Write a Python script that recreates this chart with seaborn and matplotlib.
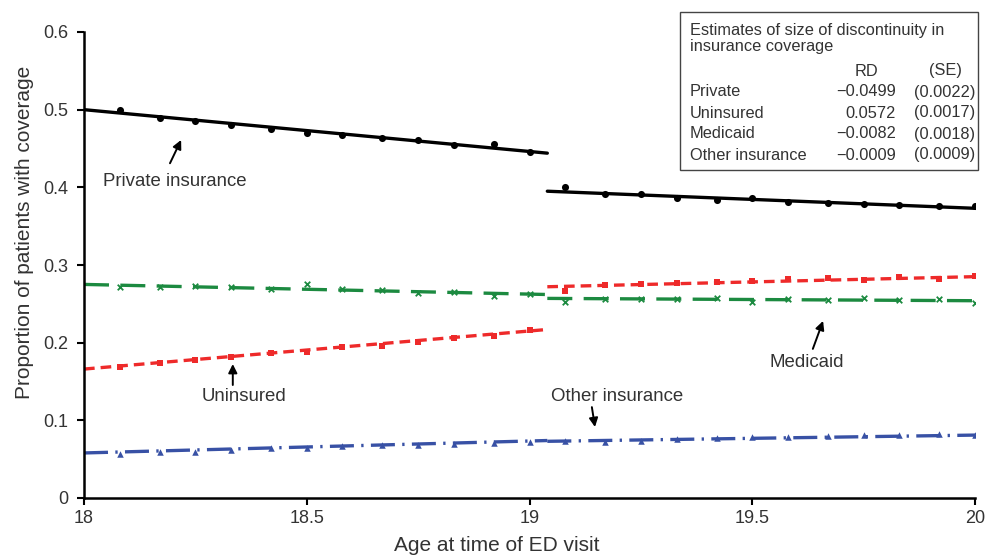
import numpy as np
import pandas as pd
import matplotlib
matplotlib.use("Agg")
import matplotlib.pyplot as plt
from matplotlib.patches import Rectangle
import seaborn as sns

# monthly age bins on each side of the 19th birthday
age_left = [18.08, 18.17, 18.25, 18.33, 18.42, 18.50, 18.58, 18.67, 18.75, 18.83, 18.92, 19.00]
age_right = [19.08, 19.17, 19.25, 19.33, 19.42, 19.50, 19.58, 19.67, 19.75, 19.83, 19.92, 20.00]

private_left = [0.499, 0.489, 0.486, 0.480, 0.475, 0.470, 0.467, 0.463, 0.461, 0.455, 0.456, 0.446]
private_right = [0.400, 0.392, 0.391, 0.386, 0.384, 0.386, 0.381, 0.380, 0.379, 0.377, 0.376, 0.376]
uninsured_left = [0.169, 0.174, 0.178, 0.182, 0.187, 0.188, 0.194, 0.196, 0.201, 0.206, 0.208, 0.216]
uninsured_right = [0.267, 0.274, 0.276, 0.277, 0.278, 0.279, 0.282, 0.283, 0.281, 0.285, 0.282, 0.286]
medicaid_left = [0.272, 0.272, 0.273, 0.272, 0.269, 0.276, 0.269, 0.268, 0.264, 0.265, 0.260, 0.263]
medicaid_right = [0.253, 0.256, 0.256, 0.256, 0.257, 0.253, 0.256, 0.255, 0.257, 0.255, 0.256, 0.251]
other_left = [0.057, 0.059, 0.059, 0.062, 0.064, 0.064, 0.067, 0.068, 0.068, 0.069, 0.071, 0.072]
other_right = [0.073, 0.072, 0.073, 0.076, 0.077, 0.078, 0.078, 0.080, 0.081, 0.081, 0.082, 0.081]

# fitted regression lines (end points)
fit_x_left = [18.0, 19.04]
fit_x_right = [19.04, 20.0]
fit_private = ([0.500, 0.444], [0.395, 0.373])
fit_uninsured = ([0.166, 0.217], [0.272, 0.285])
fit_medicaid = ([0.275, 0.262], [0.257, 0.254])
fit_other = ([0.058, 0.074], [0.073, 0.081])

series = ["Private", "Uninsured", "Medicaid", "Other insurance"]
rd_values = ["\u22120.0499", "0.0572", "\u22120.0082", "\u22120.0009"]
se_values = ["(0.0022)", "(0.0017)", "(0.0018)", "(0.0009)"]

colors = {"Private": "black", "Uninsured": "#ee2a2a",
          "Medicaid": "#1c8a40", "Other insurance": "#3851a5"}
markers = {"Private": "o", "Uninsured": "s", "Medicaid": "x", "Other insurance": "^"}
dashes = {"Private": "", "Uninsured": (3.2, 1.8),
          "Medicaid": (7.5, 3.4), "Other insurance": (7.2, 2.2, 0.7, 2.2)}

points = {"Private": (private_left, private_right),
          "Uninsured": (uninsured_left, uninsured_right),
          "Medicaid": (medicaid_left, medicaid_right),
          "Other insurance": (other_left, other_right)}
fits = {"Private": fit_private, "Uninsured": fit_uninsured,
        "Medicaid": fit_medicaid, "Other insurance": fit_other}

pt_rows = []
fit_rows = []
for s in series:
    left, right = points[s]
    for a, v in zip(age_left + age_right, left + right):
        pt_rows.append({"age": a, "share": v, "series": s})
    fl, fr = fits[s]
    for a, v in zip(fit_x_left, fl):
        fit_rows.append({"age": a, "share": v, "series": s, "seg": s + "_L"})
    for a, v in zip(fit_x_right, fr):
        fit_rows.append({"age": a, "share": v, "series": s, "seg": s + "_R"})
pts = pd.DataFrame(pt_rows)
fit_df = pd.DataFrame(fit_rows)

sns.set_style("ticks")
plt.rcParams['font.family'] = ['Liberation Sans', 'DejaVu Sans']

fig = plt.figure(figsize=(9.85, 5.55), dpi=100)
ax = fig.add_axes([84 / 985, 1 - 498 / 555, 891 / 985, 466 / 555])

for s in series:
    sub = pts[pts["series"] == s]
    if markers[s] == "x":
        sns.scatterplot(data=sub, x="age", y="share", color=colors[s], marker="x",
                        s=16, linewidth=1.3, legend=False, ax=ax, zorder=3)
    elif markers[s] == "o":
        sns.scatterplot(data=sub, x="age", y="share", color=colors[s], marker="o",
                        s=26, linewidth=0, legend=False, ax=ax, zorder=3)
    else:
        sns.scatterplot(data=sub, x="age", y="share", color=colors[s], marker=markers[s],
                        s=22, linewidth=0, legend=False, ax=ax, zorder=3)
sns.lineplot(data=fit_df, x="age", y="share", hue="series", style="series",
             units="seg", estimator=None, palette=colors, dashes=dashes,
             linewidth=2.4, legend=False, ax=ax, zorder=2)

ax.set_xlim(18, 20)
ax.set_ylim(0, 0.6)
ax.set_xticks([18, 18.5, 19, 19.5, 20])
ax.set_xticklabels(["18", "18.5", "19", "19.5", "20"])
ax.set_yticks([0, 0.1, 0.2, 0.3, 0.4, 0.5, 0.6])
ax.set_yticklabels(["0", "0.1", "0.2", "0.3", "0.4", "0.5", "0.6"])
ax.tick_params(axis="both", labelsize=13, colors="black", labelcolor="#333333",
               direction="out", length=5, width=1.5)
ax.tick_params(axis="y", pad=6)
for side in ["left", "bottom"]:
    ax.spines[side].set_linewidth(1.8)
    ax.spines[side].set_color("black")
sns.despine(ax=ax)
ax.set_xlabel("Age at time of ED visit", fontsize=15, color="#333333")
ax.xaxis.set_label_coords((497 - 84) / 891, -0.082)
ax.set_ylabel("Proportion of patients with coverage", fontsize=15, color="#333333")
ax.yaxis.set_label_coords((34 - 84) / 891, (498 - 232) / 466)

arrow = dict(arrowstyle="-|>", color="black", lw=1.4, mutation_scale=13, shrinkA=0, shrinkB=0)
ann = dict(fontsize=13.4, color="#333333", va="center")
ax.annotate("", xy=(18.218, 0.461), xytext=(18.193, 0.431), arrowprops=arrow)
ax.text(18.043, 0.408, "Private insurance", ha="left", **ann)
ax.annotate("", xy=(18.334, 0.1725), xytext=(18.334, 0.1455), arrowprops=arrow)
ax.text(18.359, 0.131, "Uninsured", ha="center", **ann)
ax.annotate("", xy=(19.659, 0.228), xytext=(19.636, 0.192), arrowprops=arrow)
ax.text(19.623, 0.174, "Medicaid", ha="center", **ann)
ax.annotate("", xy=(19.147, 0.0914), xytext=(19.140, 0.117), arrowprops=arrow)
ax.text(19.196, 0.131, "Other insurance", ha="center", **ann)

# estimates box
W, H = 985, 555
fig.patches.append(Rectangle((680 / W, 1 - 170 / H), 298 / W, 158 / H,
                             transform=fig.transFigure, fill=True, facecolor="white",
                             edgecolor="#444444", linewidth=1.0, zorder=5))
tk = dict(fontsize=11.8, color="#333333", va="center", zorder=6)
fig.text(690 / W, 1 - 30 / H, "Estimates of size of discontinuity in", ha="left", **tk)
fig.text(690 / W, 1 - 47 / H, "insurance coverage", ha="left", **tk)
fig.text(866 / W, 1 - 71 / H, "RD", ha="center", **tk)
fig.text(945 / W, 1 - 71 / H, "(SE)", ha="center", **tk)
for i, (s, rd, se) in enumerate(zip(series, rd_values, se_values)):
    yy = 1 - (92 + 21 * i) / H
    fig.text(690 / W, yy, s, ha="left", **tk)
    fig.text(896 / W, yy, rd, ha="right", **tk)
    fig.text(975 / W, yy, se, ha="right", **tk)

fig.savefig("out.png", dpi=100)
